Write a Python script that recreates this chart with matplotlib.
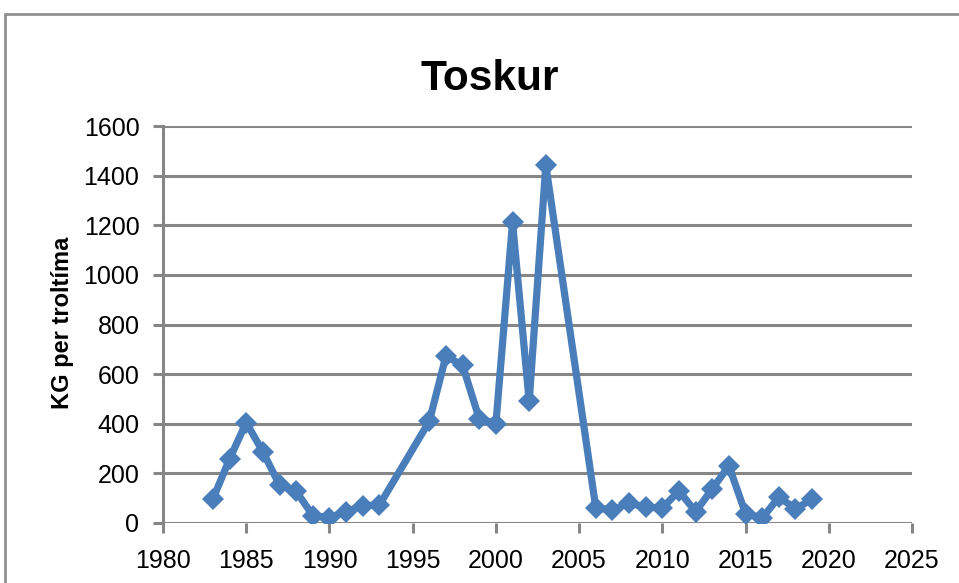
import matplotlib
matplotlib.use("Agg")
import matplotlib.pyplot as plt
from matplotlib.patches import Rectangle

years = [1983, 1984, 1985, 1986, 1987, 1988, 1989, 1990, 1991, 1992, 1993,
         1996, 1997, 1998, 1999, 2000, 2001, 2002, 2003,
         2006, 2007, 2008, 2009, 2010, 2011, 2012, 2013, 2014, 2015, 2016,
         2017, 2018, 2019]
values = [97, 258, 405, 287, 153, 128, 30, 22, 44, 70, 72,
          410, 673, 635, 420, 400, 1212, 490, 1442,
          62, 52, 80, 64, 60, 130, 45, 138, 230, 38, 20,
          104, 58, 95]
title = "Toskur"
ylabel = "KG per troltíma"
xticks = [1980, 1985, 1990, 1995, 2000, 2005, 2010, 2015, 2020, 2025]
yticks = [0, 200, 400, 600, 800, 1000, 1200, 1400, 1600]

W, H = 959, 583
fig = plt.figure(figsize=(W / 100, H / 100), dpi=100)
grey = "#868686"
blue = "#4A7EBB"

# outer chart frame (cut off at right and bottom)
fig.patches.append(Rectangle((5 / W, -0.1), 1.2, (H - 14) / H + 0.1,
                             transform=fig.transFigure, fill=False,
                             edgecolor="#8c8c8c", linewidth=1.9))

ax = fig.add_axes([163 / W, 1 - 523 / H, (912 - 163) / W, (523 - 126) / H])
ax.plot(years, values, color=blue, linewidth=5.2, marker="D",
        markersize=11, markeredgewidth=0, solid_joinstyle="miter")

ax.set_xlim(1980, 2025)
ax.set_ylim(0, 1600)
ax.set_xticks(xticks)
ax.set_yticks(yticks)
ax.yaxis.grid(True, color=grey, linewidth=2.2)
ax.set_axisbelow(True)
for s in ["top", "right", "bottom"]:
    ax.spines[s].set_visible(False)
ax.spines["left"].set_color(grey)
ax.spines["left"].set_linewidth(2.2)
ax.spines["left"].set_bounds(0, 1600)
ax.spines["left"].set_zorder(0.5)

ax.tick_params(axis="y", length=7, width=2.2, color=grey, pad=10,
               labelsize=18)
ax.tick_params(axis="x", length=7, width=2.2, color=grey, pad=12,
               labelsize=18)
for lab in ax.get_xticklabels() + ax.get_yticklabels():
    lab.set_fontfamily("Liberation Sans")

ax.set_title(title, fontsize=30.5, fontweight="heavy", family="Liberation Sans",
             pad=26, x=(490 - 163) / (912 - 163))
ax.set_ylabel(ylabel, fontsize=17, fontweight="bold", family="Liberation Sans",
              va="center")
ax.yaxis.set_label_coords((63 - 163) / (912 - 163), 0.505)

fig.savefig("out.png", dpi=100)
